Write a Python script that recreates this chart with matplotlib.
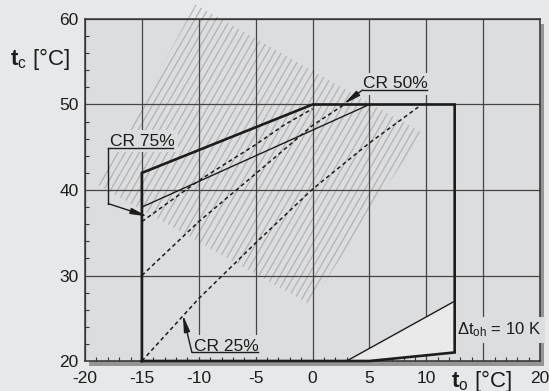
import matplotlib
matplotlib.use("Agg")
import matplotlib.pyplot as plt
import numpy as np
from matplotlib.patches import Polygon, Rectangle
from matplotlib.collections import LineCollection

plt.rcParams['font.family'] = ['Liberation Sans', 'DejaVu Sans']
plt.rcParams['mathtext.fontset'] = 'custom'
plt.rcParams['mathtext.rm'] = 'Liberation Sans'
plt.rcParams['mathtext.bf'] = 'Liberation Sans:bold'
plt.rcParams['mathtext.it'] = 'Liberation Sans:italic'

# --- data (t_o evaporating temp, t_c condensing temp, in °C) ---
envelope_to = [-15, -15, 0, 12.5, 12.5, 5, -15]
envelope_tc = [20, 42, 50, 50, 21, 20, 20]

thin_upper_to = [-15, 5]
thin_upper_tc = [38, 50]
thin_lower_to = [3, 12.5]
thin_lower_tc = [20, 27]

# light zone (superheat 10 K)
zone_to = [3, 12.5, 12.5, 5]
zone_tc = [20, 27, 21, 20]

cr75_to = [-15, -10, -5, -2.5, 0]
cr75_tc = [36.3, 41.1, 45.3, 47.6, 49.5]
cr50_to = [-15, -10, -5, 0, 2.8]
cr50_tc = [30, 36.3, 41.9, 47.55, 50]
cr25_to = [-15, -10, -5, 0, 5, 9.3]
cr25_tc = [20, 27.3, 33.8, 40.1, 45.5, 49.7]

# hatched region corners
hatch_to = [-18.9, -10.3, 9.6, -0.2]
hatch_tc = [40.6, 61.7, 46.7, 26.6]

xticks = [-20, -15, -10, -5, 0, 5, 10, 15, 20]
xlabels = ['-20', '-15', '-10', '-5', '0', '5', '10', '', '20']
yticks = [20, 30, 40, 50, 60]

bg = '#e7e8e9'
face = '#dcdddf'
ink = '#1c1c1c'

fig = plt.figure(figsize=(5.49, 3.91), dpi=100, facecolor=bg)
ax_rect = [85 / 549, 30 / 391, 455 / 549, 342 / 391]

# drop shadow behind the plot area
shadow = Rectangle((ax_rect[0] + 4 / 549, ax_rect[1] - 5 / 391),
                   ax_rect[2], ax_rect[3], transform=fig.transFigure,
                   facecolor='#959595', edgecolor='none', zorder=-5)
fig.patches.append(shadow)

ax = fig.add_axes(ax_rect)
ax.set_zorder(1)
ax.set_facecolor(face)
ax.set_xlim(-20, 20)
ax.set_ylim(20, 60)
ax.set_axisbelow(True)

ax.set_xticks(xticks)
ax.set_xticklabels(xlabels)
ax.set_yticks(yticks)
ax.set_yticklabels([str(v) for v in yticks])
ax.set_xticks(np.arange(-20, 21, 1), minor=True)
ax.set_yticks(np.arange(20, 61, 2), minor=True)
ax.tick_params(which='major', length=0, labelsize=12.5, colors=ink)
ax.tick_params(axis='x', which='major', pad=7)
ax.tick_params(axis='y', which='major', pad=4.5)
ax.tick_params(which='minor', direction='in', length=2.8, width=0.8, color='#333333')
ax.grid(True, which='major', color='#454545', lw=0.9)
for s in ax.spines.values():
    s.set_color('#333333')
    s.set_linewidth(1.1)

# hatched band (lines clipped to polygon), drawn under the grid
hpoly = Polygon(np.column_stack([hatch_to, hatch_tc]), closed=True,
                transform=ax.transData, facecolor='none', edgecolor='none')
slope = 2.31
segs = []
for x0 in np.arange(-45, 30, 0.62):
    segs.append([(x0 + (10 - 20) / slope, 10), (x0 + (70 - 20) / slope, 70)])
lc = LineCollection(segs, colors='#b3b3b4', linewidths=0.9, zorder=0.3)
ax.add_collection(lc)
lc.set_clip_box(None)
lc.set_clip_path(hpoly)

# light triangle
ax.fill(zone_to, zone_tc, color='#eaeaeb', zorder=2, lw=0)

# lines
ax.plot(thin_upper_to, thin_upper_tc, color=ink, lw=1.0, zorder=5)
ax.plot(thin_lower_to, thin_lower_tc, color=ink, lw=1.0, zorder=5)
for xs, ys in [(cr75_to, cr75_tc), (cr50_to, cr50_tc), (cr25_to, cr25_tc)]:
    ax.plot(xs, ys, color=ink, lw=1.1, dashes=(2.6, 2.0), zorder=5)
ax.plot(envelope_to, envelope_tc, color=ink, lw=1.9, zorder=6,
        solid_joinstyle='miter', clip_on=False)

# labels with underline and leader arrows
box = dict(facecolor=face, edgecolor='none', pad=2.5)
arrow = dict(arrowstyle='-|>,head_length=1.0,head_width=0.18', color=ink,
             lw=1.0, shrinkA=0, shrinkB=0)

ax.text(-17.8, 45.15, 'CR 75%', fontsize=12.5, color=ink, va='baseline', bbox=box, zorder=3)
ax.plot([-17.94, -12.3], [44.93, 44.93], color=ink, lw=1.0, zorder=5)
ax.plot([-17.94, -17.94], [44.93, 38.4], color=ink, lw=1.0, zorder=5)
ax.annotate('', xy=(-14.5, 36.9), xytext=(-17.94, 38.4), arrowprops=arrow, zorder=7)

ax.text(4.45, 51.9, 'CR 50%', fontsize=12.5, color=ink, va='baseline', bbox=box, zorder=3)
ax.plot([4.4, 10.1], [51.7, 51.7], color=ink, lw=1.0, zorder=5)
ax.annotate('', xy=(2.75, 50.05), xytext=(4.4, 51.7), arrowprops=arrow, zorder=7)

ax.text(-10.45, 21.2, 'CR 25%', fontsize=12.5, color=ink, va='baseline', bbox=box, zorder=3)
ax.plot([-10.6, -4.8], [21.0, 21.0], color=ink, lw=1.0, zorder=5)
ax.annotate('', xy=(-11.4, 25.4), xytext=(-10.6, 21.0), arrowprops=arrow, zorder=7)

ax.text(12.7, 23.1, r'Δ$\mathrm{t}_{\mathrm{oh}}$ = 10 K', fontsize=12, color=ink,
        va='baseline', bbox=box, zorder=3)

# axis titles
fig.text(10 / 549, (391 - 64.5) / 391, r'$\mathbf{t}_{\mathrm{c}}$ [°C]',
         fontsize=16, color=ink, va='baseline', ha='left')
fig.text(451 / 549, (391 - 387) / 391, r'$\mathbf{t}_{\mathrm{o}}$ [°C]',
         fontsize=16, color=ink, va='baseline', ha='left')

fig.savefig('out.png', dpi=100, facecolor=bg)
